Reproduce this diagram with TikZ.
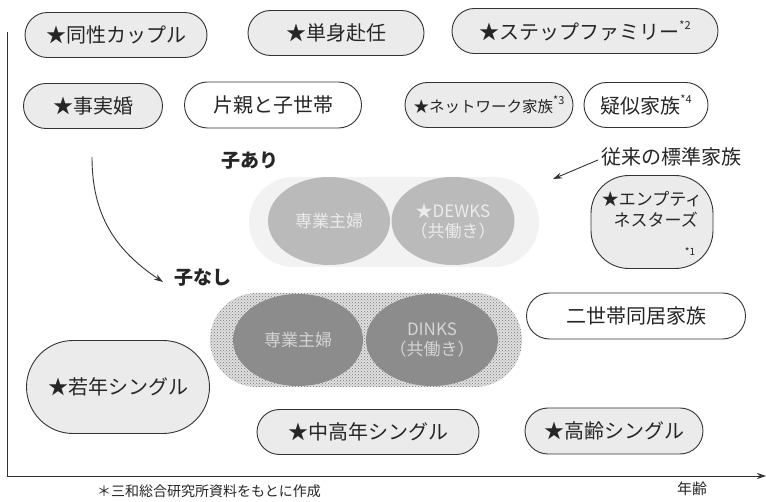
\documentclass[tikz,border=0pt]{standalone}
\usepackage{fontspec}
\setmainfont{Noto Sans CJK JP}
\usetikzlibrary{shapes.misc,shapes.geometric,arrows.meta,patterns}
\newcommand{\supmark}[1]{\raisebox{0.5em}{\fontsize{11}{11}\selectfont #1}}
\begin{document}
\begin{tikzpicture}[x=1pt,y=-1pt]
\tikzset{
  pill/.style={rounded rectangle, draw=black!80, line width=0.9pt, fill=black!8,
    inner sep=0pt, text=black!85, font=\fontsize{20}{22}\selectfont},
  wpill/.style={pill, fill=white},
  lbl/.style={font=\bfseries\fontsize{19}{21}\selectfont, text=black!85},
  upcircle/.style={ellipse, inner sep=0pt, fill=black!27, text=white!92!black,
    align=center, font=\fontsize{17}{20}\selectfont},
  lowcircle/.style={ellipse, inner sep=0pt, fill=black!45, text=black!17,
    align=center, font=\fontsize{17}{20}\selectfont},
  arr/.style={draw=black!80, line width=0.9pt, -{Stealth[length=9pt,width=6pt]}},
}
\useasboundingbox (0,0) rectangle (766,502);
\fill[white] (0,0) rectangle (766,502);

% axes
\coordinate (ytop) at (7,32);
\coordinate (orig) at (7,476);
\coordinate (xend) at (766,476);
\draw[arr] (ytop) -- (orig) -- (xend);

% top rows
\node[pill, minimum width=182, minimum height=45] (doseI) at (116,35) {★同性カップル};
\node[pill, minimum width=176, minimum height=45] (tanshin) at (336,33) {★単身赴任};
\node[pill, minimum width=266, minimum height=45] (step) at (585,31) {★ステップファミリー\supmark{*2}};
\node[pill, minimum width=139, minimum height=45] (jijitsu) at (93,106) {★事実婚};
\node[wpill, minimum width=177, minimum height=46] (kataoya) at (273,105) {片親と子世帯};
\node[pill, minimum width=168, minimum height=45, font=\fontsize{15.5}{18}\selectfont] (network) at (489,105) {★ネットワーク家族\supmark{*3}};
\node[wpill, minimum width=124, minimum height=45] (giji) at (646,105) {疑似家族\supmark{*4}};

% labels
\node[lbl] (koari) at (250,161) {子あり};
\node[lbl] (konashi) at (203,278) {子なし};
\node[font=\fontsize{20}{22}\selectfont, text=black!85, anchor=west] (jurai) at (598,157) {従来の標準家族};
\coordinate (juraitip) at (553,179);
\draw[arr] (jurai.west) ++(0,3) -- (juraitip);
\coordinate (curvestart) at (92,157);
\draw[arr] (curvestart) .. controls (92,215) and (115,250) .. ([xshift=-8pt,yshift=-4pt]konashi.west);

% upper group (with children)
\node[rounded rectangle, fill=black!5, minimum width=290, minimum height=90, inner sep=0pt] (upbg) at (394,222) {};
\node[upcircle, minimum width=122, minimum height=88] (sengyo1) at (329,221) {専業主婦};
\node[upcircle, minimum width=123, minimum height=88] (dewks) at (453,221) {★DEWKS\\（共働き）};

% empty nesters
\node[rectangle, rounded corners=38pt, draw=black!80, line width=0.9pt, fill=black!8,
  minimum width=122, minimum height=93, align=center, text=black!85,
  font=\fontsize{17}{21}\selectfont] (empty) at (652,222) {★エンプティ\\\ \ ネスターズ\\[6pt]};
\node[font=\fontsize{10}{10}\selectfont, text=black!85] (empmark) at (690,252) {*1};

% lower group (no children)
\node[rounded rectangle, minimum width=312, minimum height=94, inner sep=0pt,
  preaction={fill=black!12}, pattern=crosshatch dots, pattern color=black!55] (lowbg) at (366,340) {};
\node[lowcircle, minimum width=130, minimum height=92] (sengyo2) at (298,340) {専業主婦};
\node[lowcircle, minimum width=132, minimum height=92] (dinks) at (432,340) {DINKS\\（共働き）};

\node[wpill, minimum width=219, minimum height=46] (nisetai) at (636,316) {二世帯同居家族};

% singles
\node[pill, minimum width=183, minimum height=93] (jakunen) at (118,387) {★若年シングル};
\node[pill, minimum width=222, minimum height=45] (chukonen) at (368,432) {★中高年シングル};
\node[pill, minimum width=178, minimum height=46] (koreI) at (614,431) {★高齢シングル};

% axis label and source
\node[font=\fontsize{15}{16}\selectfont, text=black!85] (nenrei) at (692,489) {年齢};
\node[font=\fontsize{14}{15}\selectfont, text=black!85, anchor=west, inner sep=0pt] (source) at (97,491) {＊三和総合研究所資料をもとに作成};
\end{tikzpicture}
\end{document}
